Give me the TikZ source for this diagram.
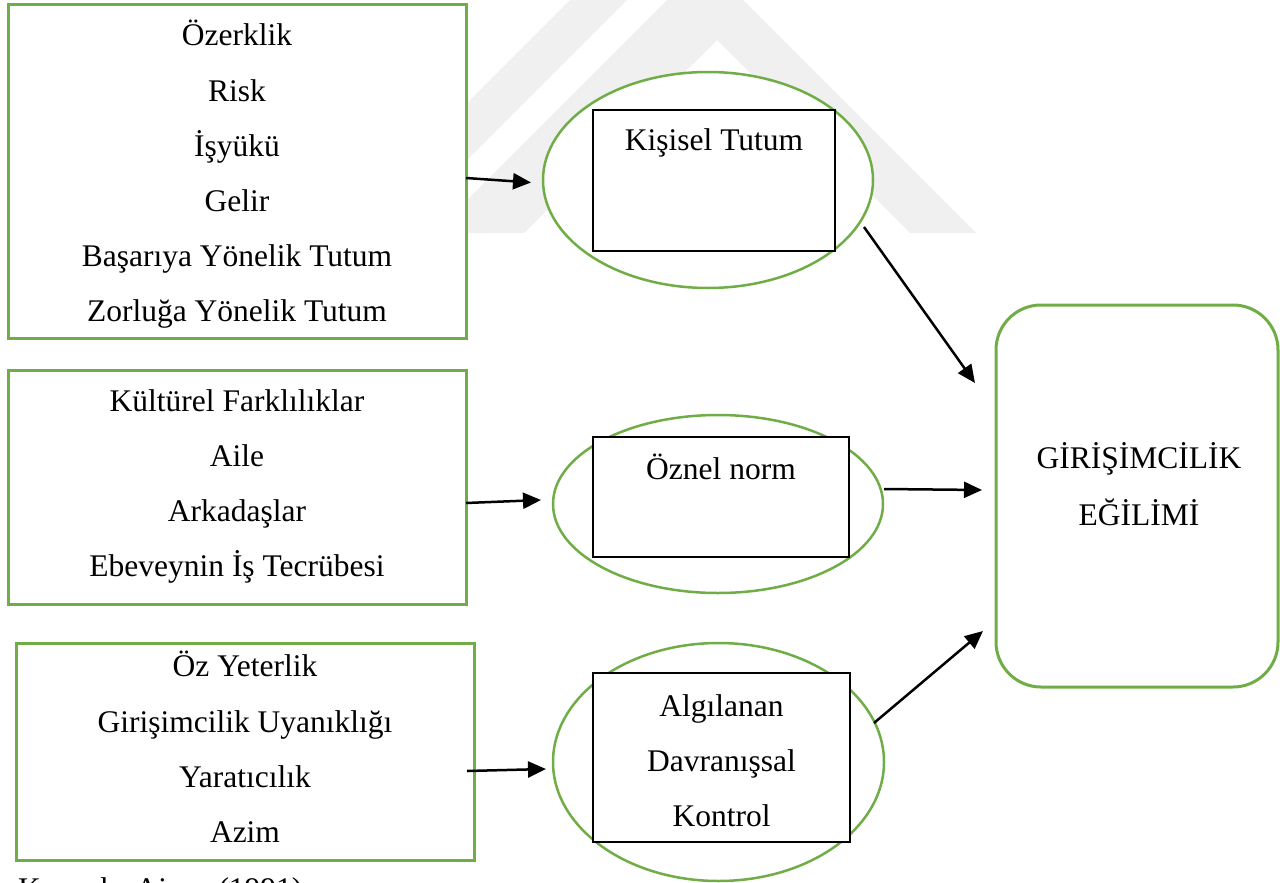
\documentclass[tikz,border=0pt]{standalone}
\usepackage{fontspec}
\setmainfont{Liberation Serif}
\usetikzlibrary{shapes.geometric,arrows.meta,calc}
\definecolor{boxgreen}{HTML}{70AD47}
\definecolor{wmgray}{HTML}{F0F0F0}
\newcommand\dfont{\fontsize{31.5}{55}\selectfont}
\tikzset{
  greenbox/.style={draw=boxgreen,line width=3pt,fill=white,rectangle,inner sep=0pt,outer sep=0pt},
  greenoval/.style={draw=boxgreen,line width=2.5pt,fill=white,ellipse,inner sep=0pt,outer sep=0pt},
  blackbox/.style={draw=black,line width=2pt,fill=white,rectangle,inner sep=0pt,outer sep=0pt},
  txt/.style={font=\dfont,anchor=base,inner sep=0pt},
  arr/.style={line width=2.5pt,-{Triangle[length=18pt,width=16pt]}},
}
\begin{document}
\begin{tikzpicture}[x=1pt,y=-1pt]
\useasboundingbox (0,0) rectangle (1280,883);
\clip (0,0) rectangle (1280,883);
% watermark
\fill[wmgray] (570,0) -- (627,0) -- (394,233) -- (337,233) -- cycle;
\fill[wmgray] (705,-38) -- (976,233) -- (910,233) -- (717,40) -- (524,233) -- (434,233) -- cycle;
% left boxes
\node[greenbox,minimum width=458pt,minimum height=333pt] (b1) at (237,171.5) {};
\node[greenbox,minimum width=458pt,minimum height=234pt] (b2) at (237,487) {};
\node[greenbox,minimum width=458pt,minimum height=217pt] (b3) at (245,751.5) {};
\node[txt] (t11) at (237,46) {Özerklik};
\node[txt] (t12) at (237,101) {Risk};
\node[txt] (t13) at (237,156) {İşyükü};
\node[txt] (t14) at (237,211) {Gelir};
\node[txt] (t15) at (237,266) {Başarıya Yönelik Tutum};
\node[txt] (t16) at (237,321) {Zorluğa Yönelik Tutum};
\node[txt] (t21) at (237,411) {Kültürel Farklılıklar};
\node[txt] (t22) at (237,466) {Aile};
\node[txt] (t23) at (237,521) {Arkadaşlar};
\node[txt] (t24) at (237,576) {Ebeveynin İş Tecrübesi};
\node[txt] (t31) at (245,676) {Öz Yeterlik};
\node[txt] (t32) at (245,732) {Girişimcilik Uyanıklığı};
\node[txt] (t33) at (245,787) {Yaratıcılık};
\node[txt] (t34) at (245,842) {Azim};
% ovals with boxes
\node[greenoval,minimum width=330pt,minimum height=216pt] (e1) at (708,180) {};
\node[blackbox,minimum width=242pt,minimum height=141pt] (r1) at (714,180.5) {};
\node[txt] (k1) at (714,150) {Kişisel Tutum};
\node[greenoval,minimum width=330pt,minimum height=178pt] (e2) at (718,504) {};
\node[blackbox,minimum width=256pt,minimum height=120pt] (r2) at (721,497) {};
\node[txt] (k2) at (721,479) {Öznel norm};
\node[greenoval,minimum width=331pt,minimum height=238pt] (e3) at (718.5,762) {};
\node[blackbox,minimum width=257pt,minimum height=169pt] (r3) at (721.5,757.5) {};
\node[txt] (k31) at (721.5,716) {Algılanan};
\node[txt] (k32) at (721.5,771) {Davranışsal};
\node[txt] (k33) at (721.5,826) {Kontrol};
% outcome
\node[draw=boxgreen,line width=3pt,fill=white,rectangle,rounded corners=45pt,inner sep=0pt,outer sep=0pt,minimum width=282pt,minimum height=382pt] (g) at (1137,496) {};
\node[txt] (g1) at (1139,468) {GİRİŞİMCİLİK};
\node[txt] (g2) at (1139,525) {EĞİLİMİ};
% arrows
\draw[arr] ($(b1.east)+(0,6.5)$) -- ($(e1.west)+(-12,2.5)$);
\draw[arr] ($(b2.east)+(0,16)$) -- ($(e2.west)+(-12,-4)$);
\draw[arr] ($(b3.east)+(-7,19.5)$) -- ($(e3.west)+(-7,7)$);
\draw[arr] ($(e1.center)+(156,47)$) -- ($(g.west)+(-21,-113)$);
\draw[arr] ($(e2.east)+(1,-15)$) -- ($(g.west)+(-14,-6)$);
\draw[arr] ($(e3.center)+(155.5,-39)$) -- ($(g.west)+(-13,135)$);
% source (cut by the lower edge, as in the reference)
\node[font=\dfont,anchor=base west,inner sep=0pt] (src) at (18,899) {Kaynak: Ajzen (1991)};
\end{tikzpicture}
\end{document}
